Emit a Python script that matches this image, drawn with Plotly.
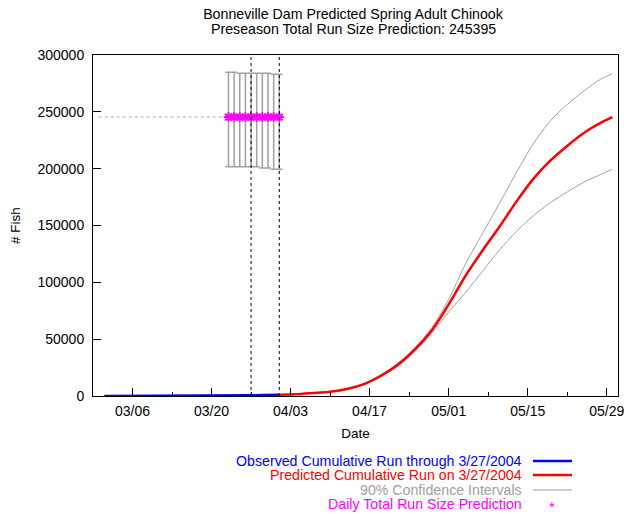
import plotly.graph_objects as go

# ---------------- data ----------------
obs_dates = ["2004-03-01", "2004-03-05", "2004-03-10", "2004-03-15", "2004-03-20",
             "2004-03-24", "2004-03-27", "2004-03-29", "2004-03-31", "2004-04-01"]
obs_vals = [0, 20, 60, 120, 220, 380, 600, 850, 1100, 1200]

pred_dates = ["2004-04-01", "2004-04-04", "2004-04-07", "2004-04-10", "2004-04-13",
              "2004-04-16", "2004-04-19", "2004-04-22", "2004-04-25", "2004-04-28",
              "2004-05-01", "2004-05-04", "2004-05-07", "2004-05-10", "2004-05-13",
              "2004-05-16", "2004-05-19", "2004-05-22", "2004-05-25", "2004-05-28",
              "2004-05-30"]
pred_vals = [1200, 1500, 2600, 3800, 6200, 10500, 17800, 27500, 40800, 57700,
             80600, 105800, 128000, 148900, 171000, 191000, 207000, 220000, 231600,
             240500, 245300]
upper_vals = [1200, 1550, 2700, 4000, 6500, 11000, 18600, 28800, 42500, 60100,
              85000, 116300, 143000, 169500, 196500, 222000, 242000, 256400, 268500,
              279000, 283500]
lower_vals = [1200, 1450, 2500, 3600, 5900, 10000, 17000, 26300, 39000, 55500,
              73900, 91100, 109800, 128400, 144800, 158500, 170000, 179500, 188200,
              195000, 199500]

daily_dates = ["2004-03-23", "2004-03-24", "2004-03-25", "2004-03-26", "2004-03-27",
               "2004-03-28", "2004-03-29", "2004-03-30", "2004-03-31", "2004-04-01"]
daily_pred = [245395] * 10
daily_upper = [284800, 284800, 283900, 283900, 283900, 283900, 283900, 283900, 283000, 283000]
daily_lower = [201700, 201700, 201700, 201700, 201700, 201700, 200600, 200600, 199400, 199400]

preseason_dates = ["2004-02-29", "2004-03-23"]
preseason_vals = [245395, 245395]

event_dates = ["2004-03-27", "2004-04-01"]

x_range = ["2004-02-28", "2004-05-31"]
x_ticks = ["2004-03-06", "2004-03-20", "2004-04-03", "2004-04-17",
           "2004-05-01", "2004-05-15", "2004-05-29"]
x_minor_ticks = ["2004-02-28", "2004-03-13", "2004-03-27", "2004-04-10", "2004-04-24",
                 "2004-05-08", "2004-05-22"]
x_tick_labels = ["03/06", "03/20", "04/03", "04/17", "05/01", "05/15", "05/29"]
y_ticks = [0, 50000, 100000, 150000, 200000, 250000, 300000]

title_line1 = "Bonneville Dam Predicted Spring Adult Chinook"
title_line2 = "Preseason Total Run Size Prediction: 245395"

legend_labels = ["Observed Cumulative Run through 3/27/2004",
                 "Predicted Cumulative Run on 3/27/2004",
                 "90% Confidence Intervals",
                 "Daily Total Run Size Prediction"]

# ---------------- styles ----------------
FONT = "Liberation Sans"
BLUE = "#0000ff"
RED = "#ff0000"
GREY = "#a0a0a0"
MAGENTA = "#ff00ff"

# the page body margin is removed (post_script), so figure px == window px
W, H = 631, 514
PL, PR, PT, PB = 93, 618, 55, 396   # plot box in px
PW, PH = PR - PL, PB - PT


def px_x(xw):
    return (xw - PL) / PW


def px_y(yw):
    return (PB - yw) / PH


fig = go.Figure()

# preseason dotted line
fig.add_trace(go.Scatter(x=preseason_dates, y=preseason_vals, mode="lines",
                         line=dict(color="rgba(210,120,210,0.85)", width=1, dash="dot"),
                         showlegend=False, hoverinfo="skip"))

# confidence intervals
fig.add_trace(go.Scatter(x=pred_dates, y=upper_vals, mode="lines", line_shape="spline",
                         line=dict(color=GREY, width=1, smoothing=0.8), showlegend=False))
fig.add_trace(go.Scatter(x=pred_dates, y=lower_vals, mode="lines", line_shape="spline",
                         line=dict(color=GREY, width=1, smoothing=0.8), showlegend=False))

# daily error bars
err_plus = [u - p for u, p in zip(daily_upper, daily_pred)]
err_minus = [p - l for l, p in zip(daily_lower, daily_pred)]
fig.add_trace(go.Scatter(x=daily_dates, y=daily_pred, mode="markers",
                         marker=dict(size=1, color="rgba(0,0,0,0)"),
                         error_y=dict(type="data", array=err_plus, arrayminus=err_minus,
                                      color=GREY, thickness=1.5, width=3),
                         showlegend=False))

# observed
fig.add_trace(go.Scatter(x=obs_dates, y=obs_vals, mode="lines",
                         line=dict(color=BLUE, width=2.5), showlegend=False))
# predicted
fig.add_trace(go.Scatter(x=pred_dates, y=pred_vals, mode="lines", line_shape="spline",
                         line=dict(color=RED, width=2.5, smoothing=0.8), showlegend=False))

# daily predictions (stars)
fig.add_trace(go.Scatter(x=daily_dates, y=daily_pred, mode="markers",
                         marker=dict(symbol="asterisk-open", size=8, color=MAGENTA,
                                     line=dict(color=MAGENTA, width=2)),
                         showlegend=False))

# vertical dotted event lines
shapes = []
for d in event_dates:
    shapes.append(dict(type="line", xref="x", yref="paper", x0=d, x1=d, y0=0, y1=1,
                       line=dict(color="black", width=1, dash="dot")))

# legend (text right-aligned, sample on the right, gnuplot style)
legend_colors = [BLUE, RED, GREY, MAGENTA]
legend_y = [461, 475, 490, 504]
annotations = []
for lab, col, yy in zip(legend_labels, legend_colors, legend_y):
    annotations.append(dict(text=lab, xref="paper", yref="paper",
                            x=px_x(524), y=px_y(yy),
                            xanchor="right", yanchor="middle", showarrow=False,
                            font=dict(family=FONT, size=14.2, color=col)))
for col, yy, w in zip(legend_colors[:3], legend_y[:3], [2.5, 2.5, 1]):
    shapes.append(dict(type="line", xref="paper", yref="paper",
                       x0=px_x(533), x1=px_x(572), y0=px_y(yy), y1=px_y(yy),
                       line=dict(color=col, width=w)))
annotations.append(dict(text="*", xref="paper", yref="paper",
                        x=px_x(552), y=px_y(legend_y[3] + 2),
                        xanchor="center", yanchor="middle", showarrow=False,
                        font=dict(family=FONT, size=15, color=MAGENTA)))

# second title line
annotations.append(dict(text=title_line2, xref="paper", yref="paper",
                        x=px_x(353), y=px_y(28.5), xanchor="center", yanchor="middle",
                        showarrow=False, font=dict(family=FONT, size=14.2, color="black")))

fig.update_layout(
    width=W, height=H,
    margin=dict(l=PL, r=W - PR, t=PT, b=H - PB, autoexpand=False),
    paper_bgcolor="white", plot_bgcolor="white",
    font=dict(family=FONT, size=13, color="black"),
    title=dict(text=title_line1, x=353 / W, xanchor="center",
               y=1 - 14 / H, yanchor="middle",
               font=dict(family=FONT, size=14.2, color="black")),
    shapes=shapes, annotations=annotations,
    showlegend=False,
)

fig.update_xaxes(
    type="date", range=x_range,
    tickvals=x_ticks, ticktext=x_tick_labels,
    ticks="inside", ticklen=8, tickcolor="black", tickwidth=1,
    minor=dict(tickvals=x_minor_ticks, ticks="inside", ticklen=4,
               tickcolor="black", tickwidth=1),
    showline=True, linecolor="black", linewidth=1, mirror=True,
    showgrid=False, zeroline=False, ticklabelstandoff=2, automargin=False,
    title=dict(text="Date", font=dict(family=FONT, size=13.5), standoff=10),
    tickfont=dict(family=FONT, size=14),
)
fig.update_yaxes(
    range=[0, 300000], tickvals=y_ticks, ticktext=[str(v) for v in y_ticks],
    ticks="inside", ticklen=8, tickcolor="black", tickwidth=1,
    showline=True, linecolor="black", linewidth=1, mirror=True,
    showgrid=False, zeroline=False, ticklabelstandoff=5, automargin=False,
    title=dict(text="# Fish", font=dict(family=FONT, size=13.5), standoff=13),
    tickfont=dict(family=FONT, size=14),
)

fig.write_html("out.html", config={"displayModeBar": False},
               post_script="document.body.style.margin='0';document.body.style.overflow='hidden';")
